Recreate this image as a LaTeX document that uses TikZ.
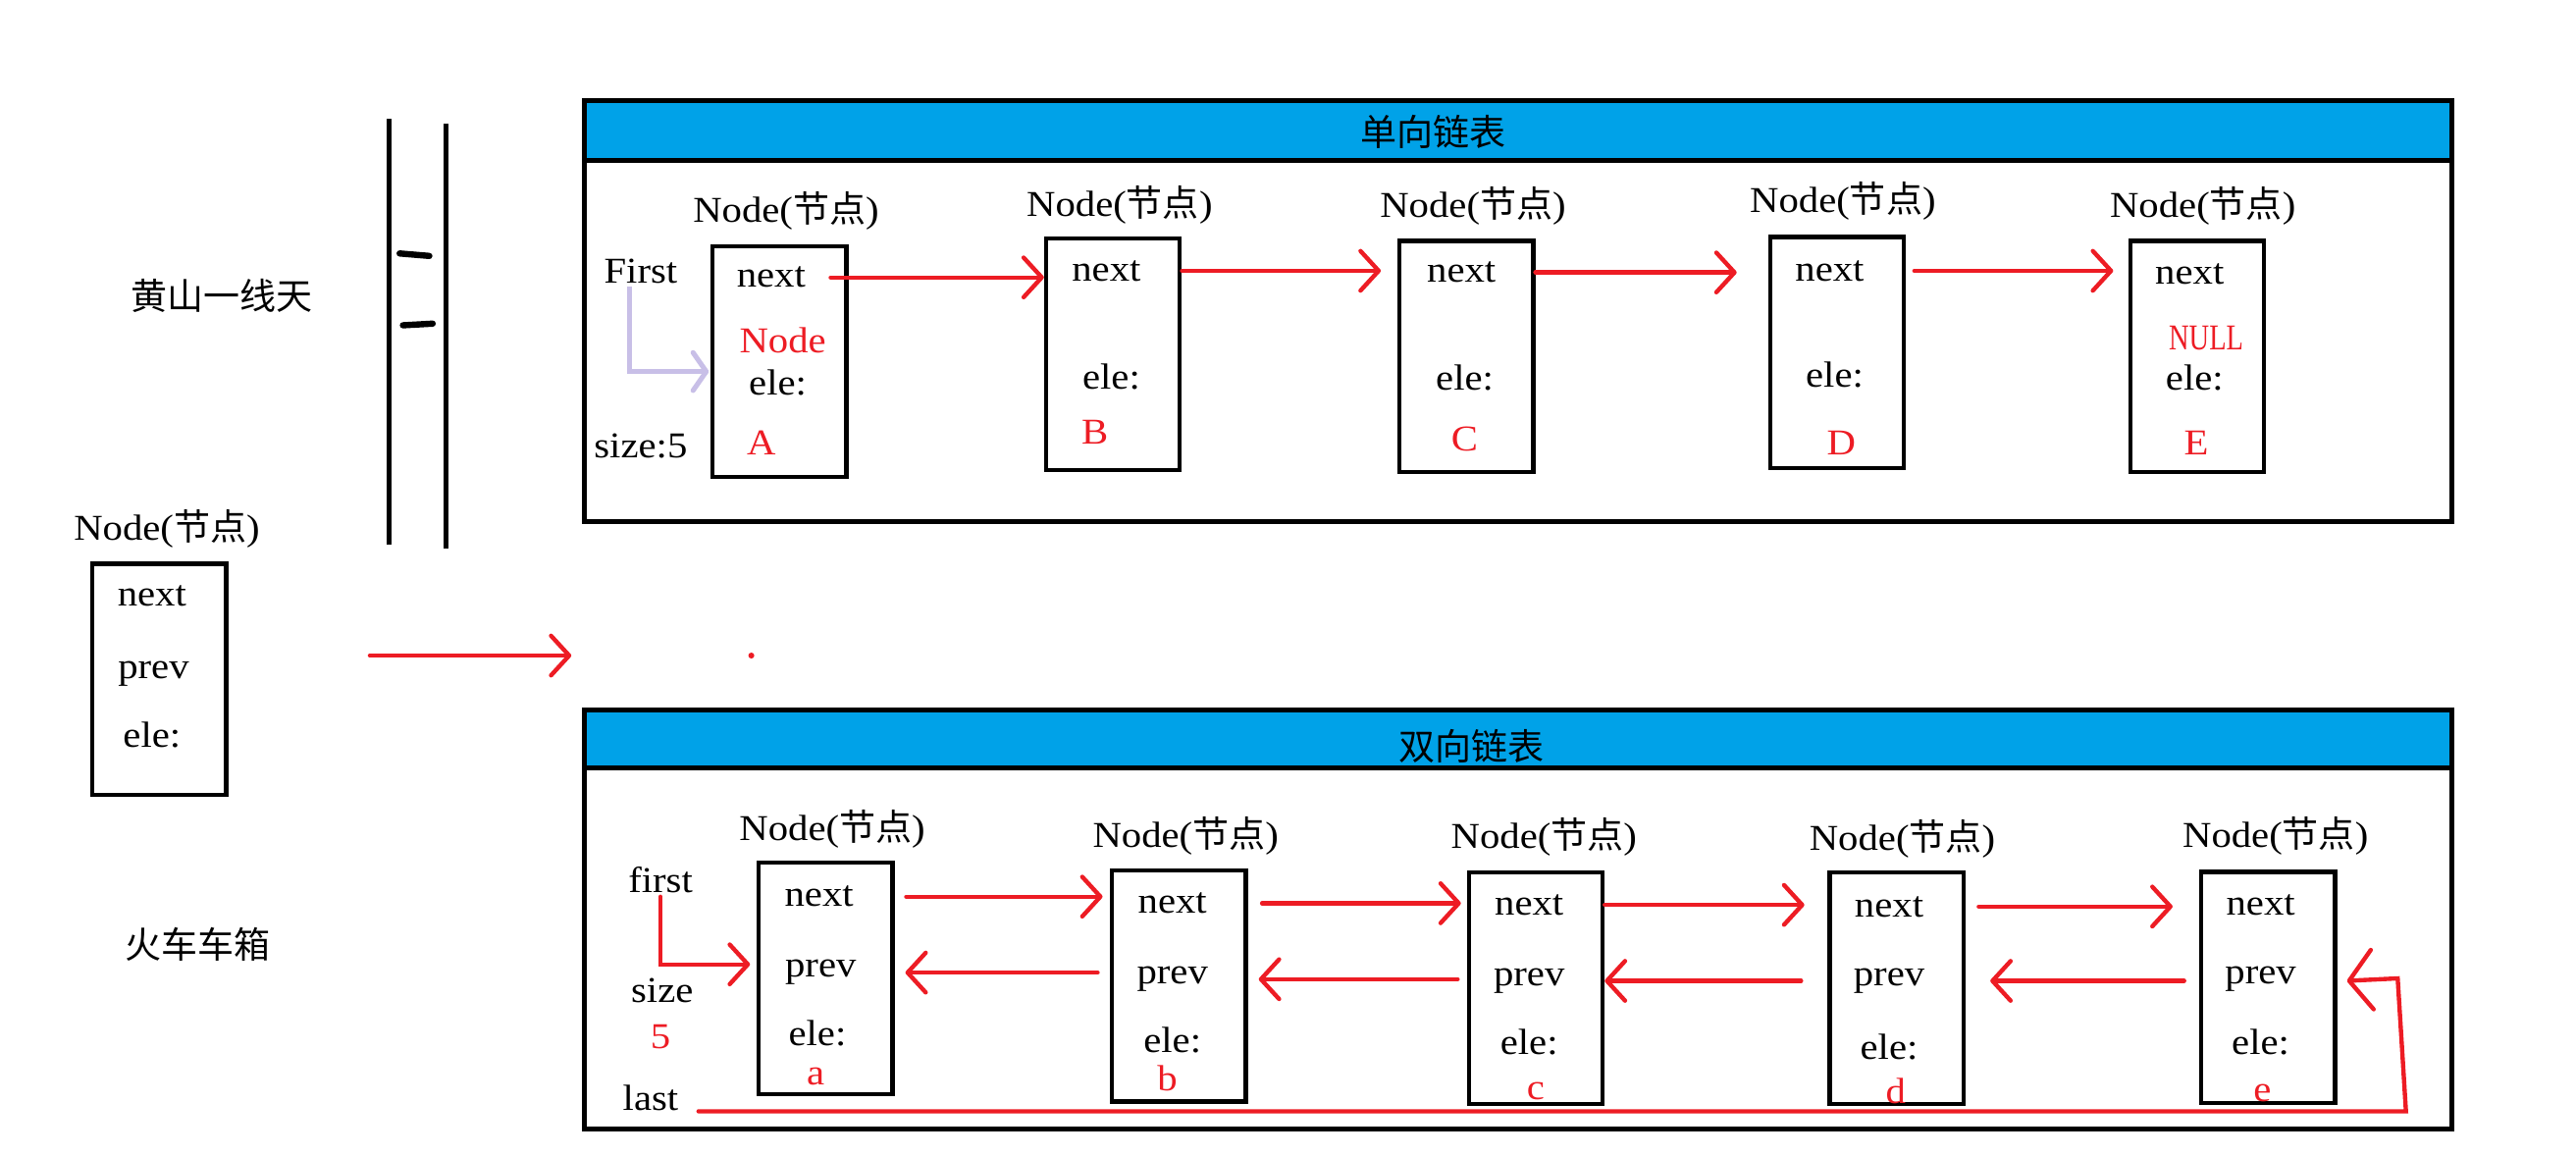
\documentclass[tikz,border=0pt]{standalone}
\usepackage{fontspec}
\setmainfont[FakeStretch=1.1]{Liberation Serif}
\newfontfamily\cjk{Noto Sans CJK SC}
\usepackage{tikz}
\usetikzlibrary{arrows.meta}
\definecolor{pred}{HTML}{ED1C24}
\definecolor{phead}{HTML}{00A2E8}
\definecolor{plav}{HTML}{C8BFE7}
\newcommand{\ndtitle}{Node({\cjk 节点})}
\tikzset{
  cell/.style={draw, line width=2.6pt, minimum width=81pt, minimum height=140pt, inner sep=0pt},
  txt/.style={font=\fontsize{22}{24}\selectfont, inner sep=2pt},
  rtxt/.style={txt, text=pred},
  ptr/.style={draw=pred, line width=2.6pt, line cap=round, -{Straight Barb[length=11pt,width=24pt,round]}},
  bigptr/.style={draw=pred, line width=2.6pt, line cap=round, -{Straight Barb[length=14pt,width=36pt,round]}},
  panel/.style={draw, line width=3pt},
}

\begin{document}
\begin{tikzpicture}[x=1pt,y=1pt]
\useasboundingbox (0,0) rectangle (1560,-700);
% left side
\node[txt] (hs) at (134.5,-179) {\cjk 黄山一线天};
\draw[line width=2.8pt] (235.5,-72) -- (235.5,-330);
\draw[line width=2.8pt] (270,-75) -- (270,-332);
\draw[line width=3.8pt, line cap=round] (242,-153.5) -- (260,-155);
\draw[line width=3.8pt, line cap=round] (244,-197) -- (262,-196);
\node[txt] (tL) at (101,-320) {\ndtitle};
\node[cell] (L) at (96.5,-411.5) {};
\node[txt] (nL) at (92,-361) {next};
\node[txt] (pL) at (93,-408) {prev};
\node[txt] (eL) at (92,-445) {ele:};
\node[txt] (hc) at (120,-572) {\cjk 火车车箱};
\coordinate (la) at (224,-397);
\coordinate (lb) at (346,-397);
\draw[ptr] (la) -- (lb);
\fill[pred] (455,-397) circle (1.8pt);

% single list
\fill[phead] (354,-61) rectangle (1485,-97);
\draw[panel] (354,-61) rectangle (1485,-316);
\draw[panel] (354,-97) -- (1485,-97);
\node[txt] (t1) at (868,-80) {\cjk 单向链表};
\node[txt] (First) at (388,-164) {First};
\node[txt] (sz) at (388,-270) {size:5};

\node[txt] (tA) at (476,-128) {\ndtitle};
\node[cell] (A) at (472,-219) {};
\node[txt] (nA) at (467,-168) {next};
\node[rtxt] (rA) at (474,-206) {Node};
\node[txt] (eA) at (471,-232) {ele:};
\node[rtxt] (vA) at (461,-268) {A};

\node[txt] (tB) at (678,-124) {\ndtitle};
\node[cell] (B) at (674,-214.5) {};
\node[txt] (nB) at (670,-164) {next};
\node[txt] (eB) at (673,-228) {ele:};
\node[rtxt] (vB) at (663,-262) {B};

\node[txt] (tC) at (892,-125) {\ndtitle};
\node[cell] (C) at (888,-216) {};
\node[txt] (nC) at (885,-165) {next};
\node[txt] (eC) at (887,-229) {ele:};
\node[rtxt] (vC) at (887,-266) {C};

\node[txt] (tD) at (1116,-122) {\ndtitle};
\node[cell] (D) at (1112.5,-213.5) {};
\node[txt] (nD) at (1108,-164) {next};
\node[txt] (eD) at (1111,-227) {ele:};
\node[rtxt] (vD) at (1115,-268) {D};

\node[txt] (tE) at (1334,-125) {\ndtitle};
\node[cell] (E) at (1330.5,-216) {};
\node[txt] (nE) at (1326,-166) {next};
\node[rtxt] (rE) at (1336,-205) {\scalebox{0.7}[1]{NULL}};
\node[txt] (eE) at (1329,-229) {ele:};
\node[rtxt] (vE) at (1330,-268) {E};

\draw[draw=plav, line width=3pt, -{Straight Barb[length=8pt,width=23pt,round]}] ([xshift=-7pt]First.south) |- ([xshift=-1pt,yshift=-6pt]A.west);
\draw[ptr, shorten <=13pt] (nA.east) -- (nA.east -| B.west);
\draw[ptr, shorten >=10pt] (nB -| B.east) -- (nB -| C.west);
\draw[ptr, shorten >=19pt] (nC -| C.east) -- (nC -| D.west);
\draw[ptr, shorten <=5pt, shorten >=9pt] (nD -| D.east) -- (nD -| E.west);

% double list
\fill[phead] (354,-430) rectangle (1485,-465);
\draw[panel] (354,-430) rectangle (1485,-684);
\draw[panel] (354,-465) -- (1485,-465);
\node[txt] (t2) at (891,-452) {\cjk 双向链表};
\node[txt] (fst) at (400,-533) {first};
\node[txt] (siz) at (401,-600) {size};
\node[rtxt] (five) at (400,-628) {5};
\node[txt] (last) at (394,-665) {last};

\node[txt] (ta) at (504,-502) {\ndtitle};
\node[cell] (a) at (500,-592.5) {};
\node[txt] (na) at (496,-543) {next};
\node[txt] (pa) at (497,-589) {prev};
\node[txt] (ea) at (495,-626) {ele:};
\node[rtxt] (va) at (494,-652) {a};

\node[txt] (tb) at (718,-506) {\ndtitle};
\node[cell] (b) at (714,-597) {};
\node[txt] (nb) at (710,-547) {next};
\node[txt] (pb) at (710,-593) {prev};
\node[txt] (eb) at (710,-630) {ele:};
\node[rtxt] (vb) at (707,-653) {b};

\node[txt] (tc) at (935,-507) {\ndtitle};
\node[cell] (c) at (930,-598.5) {};
\node[txt] (nc) at (926,-548) {next};
\node[txt] (pc) at (926,-594) {prev};
\node[txt] (ec) at (926,-631) {ele:};
\node[rtxt] (vc) at (930,-661) {c};

\node[txt] (td) at (1152,-508) {\ndtitle};
\node[cell] (d) at (1148.5,-598.5) {};
\node[txt] (nd) at (1144,-549) {next};
\node[txt] (pd) at (1144,-594) {prev};
\node[txt] (ed) at (1144,-634) {ele:};
\node[rtxt] (vd) at (1148,-661) {d};

\node[txt] (te) at (1378,-506) {\ndtitle};
\node[cell] (e) at (1373.5,-598) {};
\node[txt] (ne) at (1369,-548) {next};
\node[txt] (pe) at (1369,-593) {prev};
\node[txt] (ee) at (1369,-631) {ele:};
\node[rtxt] (ve) at (1370,-662) {e};

\draw[ptr] (fst.south) |- ([xshift=-4pt,yshift=8.5pt]a.west);
\draw[ptr, shorten <=7pt, shorten >=4.5pt] (na -| a.east) -- (na -| b.west);
\draw[ptr, shorten <=8.5pt, shorten >=3.5pt] (nb -| b.east) -- (nb -| c.west);
\draw[ptr, shorten >=14pt] (nc -| c.east) -- (nc -| d.west);
\draw[ptr, shorten <=8pt, shorten >=16pt] (nd -| d.east) -- (nd -| e.west);
\draw[ptr, shorten <=7.5pt, shorten >=6.5pt] (pa -| b.west) -- (pa -| a.east);
\draw[ptr, shorten <=5.5pt, shorten >=6.5pt] (pb -| c.west) -- (pb -| b.east);
\draw[ptr, shorten <=16pt] (pc -| d.west) -- (pc -| c.east);
\draw[ptr, shorten <=9pt, shorten >=15pt] (pd -| e.west) -- (pd -| d.east);
\coordinate (lc1) at (1457,-673);
\coordinate (lc2) at (1452,-592.5);
\draw[bigptr, shorten <=10pt] ([yshift=-8pt]last.east) -- (lc1) -- (lc2) -- ([xshift=6pt,yshift=4pt]e.east);
\end{tikzpicture}
\end{document}
